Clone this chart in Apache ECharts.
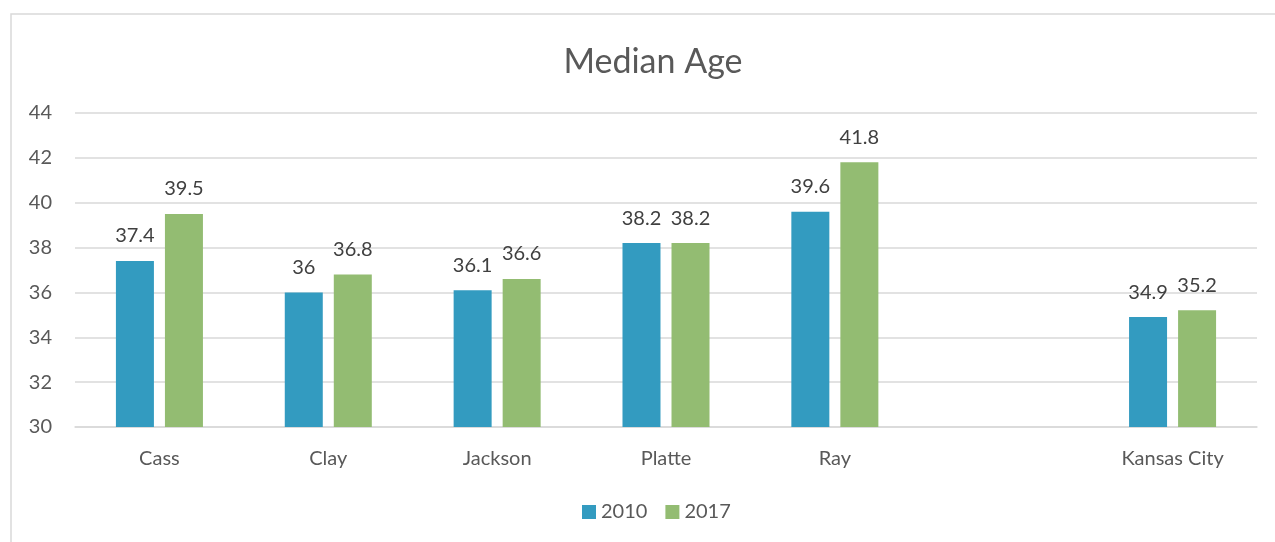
<!DOCTYPE html>
<html>
<head>
<meta charset="utf-8">
<script src="https://cdn.jsdelivr.net/npm/echarts@6/dist/echarts.min.js"></script>
<style>
html,body{margin:0;padding:0;background:#fff;overflow:hidden;}
#chart{width:1275px;height:542px;}
</style>
</head>
<body>
<div id="chart"></div>
<script>
const categories = ['Cass', 'Clay', 'Jackson', 'Platte', 'Ray', '', 'Kansas City'];
const values2010 = [37.4, 36, 36.1, 38.2, 39.6, '-', 34.9];
const values2017 = [39.5, 36.8, 36.6, 38.2, 41.8, '-', 35.2];
const seriesNames = ['2010', '2017'];
const yMin = 30, yMax = 44, yInterval = 2;

const FONT = 'Lato, "Open Sans", sans-serif';
const TXT = '#595959';
const chart = echarts.init(document.getElementById('chart'), null, {renderer: 'canvas'});
const labelStyle = {
  show: true, position: 'top', distance: 15,
  color: '#404040', fontSize: 20, fontFamily: FONT
};
chart.setOption({
  animation: false,
  backgroundColor: '#fff',
  graphic: [{
    type: 'rect', silent: true, z: -10,
    shape: {x: 11, y: 14, width: 1400, height: 700},
    style: {fill: 'none', stroke: '#d9d9d9', lineWidth: 1.5}
  }],
  title: {
    text: 'Median Age', left: 648, textAlign: 'center', top: 40,
    textStyle: {color: TXT, fontSize: 34, fontWeight: 'normal', fontFamily: FONT}
  },
  legend: {
    data: seriesNames, top: 497, left: 577,
    itemWidth: 14, itemHeight: 14, itemGap: 18,
    icon: 'rect',
    textStyle: {color: TXT, fontSize: 20, fontFamily: FONT}
  },
  grid: {left: 75, right: 18, top: 113, bottom: 115, containLabel: false},
  xAxis: {
    type: 'category', data: categories,
    axisLine: {show: true, lineStyle: {color: '#d9d9d9', width: 1.5}},
    axisTick: {show: false},
    axisLabel: {color: TXT, fontSize: 20, fontFamily: FONT, margin: 22, interval: 0}
  },
  yAxis: {
    type: 'value', min: yMin, max: yMax, interval: yInterval,
    axisLine: {show: false}, axisTick: {show: false},
    axisLabel: {color: TXT, fontSize: 20, fontFamily: FONT, margin: 23},
    splitLine: {lineStyle: {color: '#d9d9d9', width: 1.5}}
  },
  series: [
    {name: seriesNames[0], type: 'bar', data: values2010, barWidth: 38, barGap: '29%',
     itemStyle: {color: '#339BC0'}, label: labelStyle},
    {name: seriesNames[1], type: 'bar', data: values2017, barWidth: 38, barGap: '29%',
     itemStyle: {color: '#93BC72'}, label: labelStyle}
  ]
});
</script>
</body>
</html>
